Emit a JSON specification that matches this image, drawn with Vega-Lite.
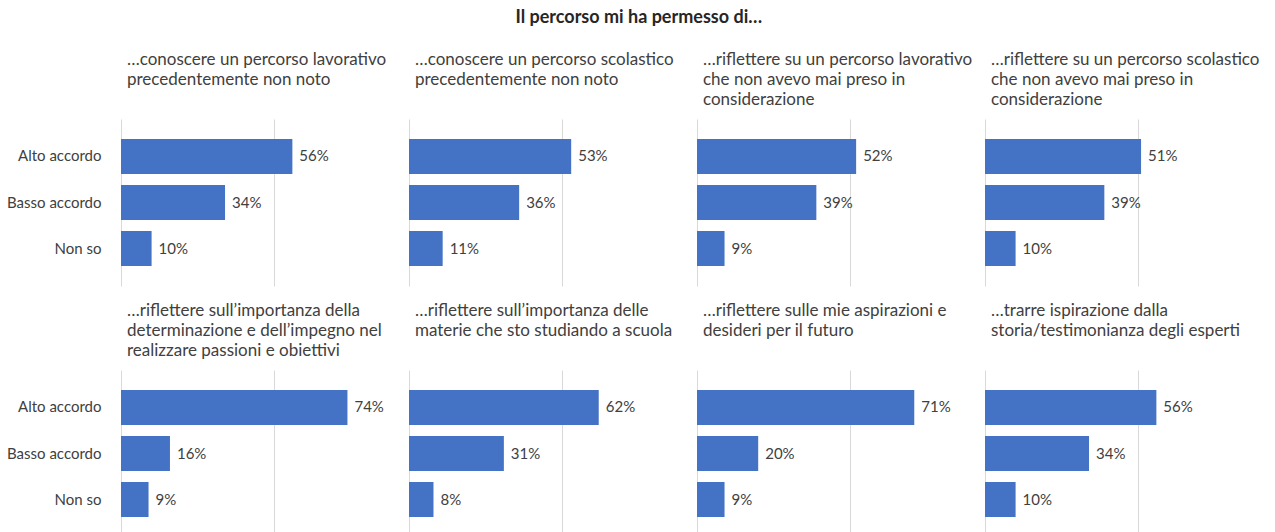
{
  "$schema": "https://vega.github.io/schema/vega-lite/v6.json",
  "background": "white",
  "padding": {"left": 6, "top": 9, "right": 5, "bottom": 0},
  "title": {"text": "Il percorso mi ha permesso di…", "font": "Lato", "fontSize": 18, "fontWeight": "bold", "color": "#262626", "anchor": "middle", "frame": "bounds", "dx": 3, "offset": 24},
  "datasets": {
    "d": [
      {"panel": 1, "cat": "Alto accordo", "value": 0.56},
      {"panel": 1, "cat": "Basso accordo", "value": 0.34},
      {"panel": 1, "cat": "Non so", "value": 0.10},
      {"panel": 2, "cat": "Alto accordo", "value": 0.53},
      {"panel": 2, "cat": "Basso accordo", "value": 0.36},
      {"panel": 2, "cat": "Non so", "value": 0.11},
      {"panel": 3, "cat": "Alto accordo", "value": 0.52},
      {"panel": 3, "cat": "Basso accordo", "value": 0.39},
      {"panel": 3, "cat": "Non so", "value": 0.09},
      {"panel": 4, "cat": "Alto accordo", "value": 0.51},
      {"panel": 4, "cat": "Basso accordo", "value": 0.39},
      {"panel": 4, "cat": "Non so", "value": 0.10},
      {"panel": 5, "cat": "Alto accordo", "value": 0.74},
      {"panel": 5, "cat": "Basso accordo", "value": 0.16},
      {"panel": 5, "cat": "Non so", "value": 0.09},
      {"panel": 6, "cat": "Alto accordo", "value": 0.62},
      {"panel": 6, "cat": "Basso accordo", "value": 0.31},
      {"panel": 6, "cat": "Non so", "value": 0.08},
      {"panel": 7, "cat": "Alto accordo", "value": 0.71},
      {"panel": 7, "cat": "Basso accordo", "value": 0.20},
      {"panel": 7, "cat": "Non so", "value": 0.09},
      {"panel": 8, "cat": "Alto accordo", "value": 0.56},
      {"panel": 8, "cat": "Basso accordo", "value": 0.34},
      {"panel": 8, "cat": "Non so", "value": 0.10}
    ]
  },
  "columns": 4,
  "spacing": {"row": 16, "column": 8},
  "concat": [
    {
      "title": {"text": ["…conoscere un percorso lavorativo", "precedentemente non noto", ""]},
      "data": {"name": "d"}, "transform": [{"filter": "datum.panel == 1"}],
      "width": 280, "height": 167,
      "layer": [
        {"mark": {"type": "bar", "color": "#4472C4"},
         "encoding": {
           "x": {"field": "value", "type": "quantitative", "scale": {"domain": [0, 0.915], "nice": false}, "axis": {"values": [0, 0.5], "labels": false, "ticks": false, "domain": false, "title": null, "gridColor": "#d9d9d9"}},
           "y": {"field": "cat", "type": "nominal", "sort": ["Alto accordo", "Basso accordo", "Non so"], "scale": {"paddingInner": 0.24, "paddingOuter": 0.435}, "axis": {"title": null}}}},
        {"mark": {"type": "text", "align": "left", "dx": 7, "font": "Lato", "fontSize": 15, "color": "#404040"},
         "encoding": {
           "x": {"field": "value", "type": "quantitative"},
           "y": {"field": "cat", "type": "nominal", "sort": ["Alto accordo", "Basso accordo", "Non so"]},
           "text": {"field": "value", "type": "quantitative", "format": ".0%"}}}
      ]
    },
    {
      "title": {"text": ["…conoscere un percorso scolastico", "precedentemente non noto", ""]},
      "data": {"name": "d"}, "transform": [{"filter": "datum.panel == 2"}],
      "width": 280, "height": 167,
      "layer": [
        {"mark": {"type": "bar", "color": "#4472C4"},
         "encoding": {
           "x": {"field": "value", "type": "quantitative", "scale": {"domain": [0, 0.915], "nice": false}, "axis": {"values": [0, 0.5], "labels": false, "ticks": false, "domain": false, "title": null, "gridColor": "#d9d9d9"}},
           "y": {"field": "cat", "type": "nominal", "sort": ["Alto accordo", "Basso accordo", "Non so"], "scale": {"paddingInner": 0.24, "paddingOuter": 0.435}, "axis": null}}},
        {"mark": {"type": "text", "align": "left", "dx": 7, "font": "Lato", "fontSize": 15, "color": "#404040"},
         "encoding": {
           "x": {"field": "value", "type": "quantitative"},
           "y": {"field": "cat", "type": "nominal", "sort": ["Alto accordo", "Basso accordo", "Non so"]},
           "text": {"field": "value", "type": "quantitative", "format": ".0%"}}}
      ]
    },
    {
      "title": {"text": ["…riflettere su un percorso lavorativo", "che non avevo mai preso in", "considerazione"]},
      "data": {"name": "d"}, "transform": [{"filter": "datum.panel == 3"}],
      "width": 280, "height": 167,
      "layer": [
        {"mark": {"type": "bar", "color": "#4472C4"},
         "encoding": {
           "x": {"field": "value", "type": "quantitative", "scale": {"domain": [0, 0.915], "nice": false}, "axis": {"values": [0, 0.5], "labels": false, "ticks": false, "domain": false, "title": null, "gridColor": "#d9d9d9"}},
           "y": {"field": "cat", "type": "nominal", "sort": ["Alto accordo", "Basso accordo", "Non so"], "scale": {"paddingInner": 0.24, "paddingOuter": 0.435}, "axis": null}}},
        {"mark": {"type": "text", "align": "left", "dx": 7, "font": "Lato", "fontSize": 15, "color": "#404040"},
         "encoding": {
           "x": {"field": "value", "type": "quantitative"},
           "y": {"field": "cat", "type": "nominal", "sort": ["Alto accordo", "Basso accordo", "Non so"]},
           "text": {"field": "value", "type": "quantitative", "format": ".0%"}}}
      ]
    },
    {
      "title": {"text": ["…riflettere su un percorso scolastico", "che non avevo mai preso in", "considerazione"]},
      "data": {"name": "d"}, "transform": [{"filter": "datum.panel == 4"}],
      "width": 280, "height": 167,
      "layer": [
        {"mark": {"type": "bar", "color": "#4472C4"},
         "encoding": {
           "x": {"field": "value", "type": "quantitative", "scale": {"domain": [0, 0.915], "nice": false}, "axis": {"values": [0, 0.5], "labels": false, "ticks": false, "domain": false, "title": null, "gridColor": "#d9d9d9"}},
           "y": {"field": "cat", "type": "nominal", "sort": ["Alto accordo", "Basso accordo", "Non so"], "scale": {"paddingInner": 0.24, "paddingOuter": 0.435}, "axis": null}}},
        {"mark": {"type": "text", "align": "left", "dx": 7, "font": "Lato", "fontSize": 15, "color": "#404040"},
         "encoding": {
           "x": {"field": "value", "type": "quantitative"},
           "y": {"field": "cat", "type": "nominal", "sort": ["Alto accordo", "Basso accordo", "Non so"]},
           "text": {"field": "value", "type": "quantitative", "format": ".0%"}}}
      ]
    },
    {
      "title": {"text": ["…riflettere sull’importanza della", "determinazione e dell’impegno nel", "realizzare passioni e obiettivi"]},
      "data": {"name": "d"}, "transform": [{"filter": "datum.panel == 5"}],
      "width": 280, "height": 167,
      "layer": [
        {"mark": {"type": "bar", "color": "#4472C4"},
         "encoding": {
           "x": {"field": "value", "type": "quantitative", "scale": {"domain": [0, 0.915], "nice": false}, "axis": {"values": [0, 0.5], "labels": false, "ticks": false, "domain": false, "title": null, "gridColor": "#d9d9d9"}},
           "y": {"field": "cat", "type": "nominal", "sort": ["Alto accordo", "Basso accordo", "Non so"], "scale": {"paddingInner": 0.24, "paddingOuter": 0.435}, "axis": {"title": null}}}},
        {"mark": {"type": "text", "align": "left", "dx": 7, "font": "Lato", "fontSize": 15, "color": "#404040"},
         "encoding": {
           "x": {"field": "value", "type": "quantitative"},
           "y": {"field": "cat", "type": "nominal", "sort": ["Alto accordo", "Basso accordo", "Non so"]},
           "text": {"field": "value", "type": "quantitative", "format": ".0%"}}}
      ]
    },
    {
      "title": {"text": ["…riflettere sull’importanza delle", "materie che sto studiando a scuola", ""]},
      "data": {"name": "d"}, "transform": [{"filter": "datum.panel == 6"}],
      "width": 280, "height": 167,
      "layer": [
        {"mark": {"type": "bar", "color": "#4472C4"},
         "encoding": {
           "x": {"field": "value", "type": "quantitative", "scale": {"domain": [0, 0.915], "nice": false}, "axis": {"values": [0, 0.5], "labels": false, "ticks": false, "domain": false, "title": null, "gridColor": "#d9d9d9"}},
           "y": {"field": "cat", "type": "nominal", "sort": ["Alto accordo", "Basso accordo", "Non so"], "scale": {"paddingInner": 0.24, "paddingOuter": 0.435}, "axis": null}}},
        {"mark": {"type": "text", "align": "left", "dx": 7, "font": "Lato", "fontSize": 15, "color": "#404040"},
         "encoding": {
           "x": {"field": "value", "type": "quantitative"},
           "y": {"field": "cat", "type": "nominal", "sort": ["Alto accordo", "Basso accordo", "Non so"]},
           "text": {"field": "value", "type": "quantitative", "format": ".0%"}}}
      ]
    },
    {
      "title": {"text": ["…riflettere sulle mie aspirazioni e", "desideri per il futuro", ""]},
      "data": {"name": "d"}, "transform": [{"filter": "datum.panel == 7"}],
      "width": 280, "height": 167,
      "layer": [
        {"mark": {"type": "bar", "color": "#4472C4"},
         "encoding": {
           "x": {"field": "value", "type": "quantitative", "scale": {"domain": [0, 0.915], "nice": false}, "axis": {"values": [0, 0.5], "labels": false, "ticks": false, "domain": false, "title": null, "gridColor": "#d9d9d9"}},
           "y": {"field": "cat", "type": "nominal", "sort": ["Alto accordo", "Basso accordo", "Non so"], "scale": {"paddingInner": 0.24, "paddingOuter": 0.435}, "axis": null}}},
        {"mark": {"type": "text", "align": "left", "dx": 7, "font": "Lato", "fontSize": 15, "color": "#404040"},
         "encoding": {
           "x": {"field": "value", "type": "quantitative"},
           "y": {"field": "cat", "type": "nominal", "sort": ["Alto accordo", "Basso accordo", "Non so"]},
           "text": {"field": "value", "type": "quantitative", "format": ".0%"}}}
      ]
    },
    {
      "title": {"text": ["…trarre ispirazione dalla", "storia/testimonianza degli esperti", ""]},
      "data": {"name": "d"}, "transform": [{"filter": "datum.panel == 8"}],
      "width": 280, "height": 167,
      "layer": [
        {"mark": {"type": "bar", "color": "#4472C4"},
         "encoding": {
           "x": {"field": "value", "type": "quantitative", "scale": {"domain": [0, 0.915], "nice": false}, "axis": {"values": [0, 0.5], "labels": false, "ticks": false, "domain": false, "title": null, "gridColor": "#d9d9d9"}},
           "y": {"field": "cat", "type": "nominal", "sort": ["Alto accordo", "Basso accordo", "Non so"], "scale": {"paddingInner": 0.24, "paddingOuter": 0.435}, "axis": null}}},
        {"mark": {"type": "text", "align": "left", "dx": 7, "font": "Lato", "fontSize": 15, "color": "#404040"},
         "encoding": {
           "x": {"field": "value", "type": "quantitative"},
           "y": {"field": "cat", "type": "nominal", "sort": ["Alto accordo", "Basso accordo", "Non so"]},
           "text": {"field": "value", "type": "quantitative", "format": ".0%"}}}
      ]
    }
  ],
  "config": {
    "view": {"stroke": null},
    "axisY": {"ticks": false, "domain": false, "labelPadding": 20, "labelFont": "Lato", "labelFontSize": 15, "labelColor": "#404040", "grid": false},
    "title": {"font": "Lato", "fontSize": 17, "fontWeight": "normal", "color": "#404040", "anchor": "start", "frame": "group", "dx": 6, "limit": 272, "lineHeight": 20, "offset": 10}
  }
}
